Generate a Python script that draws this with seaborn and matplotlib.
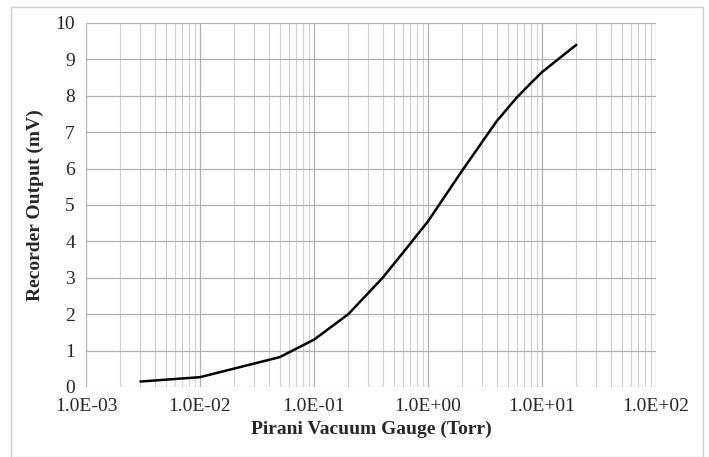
import math
import pandas as pd
import matplotlib.pyplot as plt
import matplotlib.ticker as mticker
from matplotlib.patches import Rectangle
import seaborn as sns

pressure_torr = [0.003, 0.01, 0.05, 0.1, 0.2, 0.4, 0.6, 1.0, 2.0, 4.0, 6.0, 8.0, 10.0, 20.0]
output_mv = [0.15, 0.27, 0.82, 1.3, 2.0, 3.0, 3.68, 4.55, 5.95, 7.3, 7.95, 8.35, 8.65, 9.4]

df = pd.DataFrame({"Pressure": pressure_torr, "Output": output_mv})

sns.set_style("white")
plt.rcParams["font.family"] = ["Liberation Serif", "DejaVu Serif"]

fig = plt.figure(figsize=(7.09, 4.57), dpi=100)
ax = fig.add_axes([0.1213, 0.1532, 0.8039, 0.7965])

sns.lineplot(data=df, x="Pressure", y="Output", color="black", linewidth=1.8, ax=ax)

ax.set_xscale("log")
ax.set_xlim(1e-3, 1e2)
ax.set_ylim(0, 10)
ax.set_yticks(range(0, 11))

def sci_fmt(v, pos):
    e = int(round(math.log10(v)))
    sign = "+" if e >= 0 else "-"
    return f"1.0E{sign}{abs(e):02d}"

ax.xaxis.set_major_locator(mticker.LogLocator(base=10, numticks=10))
ax.xaxis.set_major_formatter(mticker.FuncFormatter(sci_fmt))
ax.xaxis.set_minor_locator(mticker.LogLocator(base=10, subs=range(2, 10), numticks=20))
ax.xaxis.set_minor_formatter(mticker.NullFormatter())

ax.grid(True, which="major", color="#b0b0b0", linewidth=0.9)
ax.grid(True, which="minor", axis="x", color="#d0d0d0", linewidth=0.8)
ax.set_axisbelow(True)
for s in ax.spines.values():
    s.set_visible(False)
ax.tick_params(axis="both", which="both", length=0, labelsize=14, pad=8)

ax.set_xlabel("Pirani Vacuum Gauge (Torr)", fontsize=14, fontweight="bold", labelpad=4)
ax.set_ylabel("Recorder Output (mV)", fontsize=14, fontweight="bold", labelpad=8)

fig.patches.append(Rectangle((11 / 709, 0.0), 692 / 709, 1 - 7 / 457,
                             transform=fig.transFigure, fill=False,
                             edgecolor="#cccccc", linewidth=1.0))

fig.savefig("out.png", dpi=100)
